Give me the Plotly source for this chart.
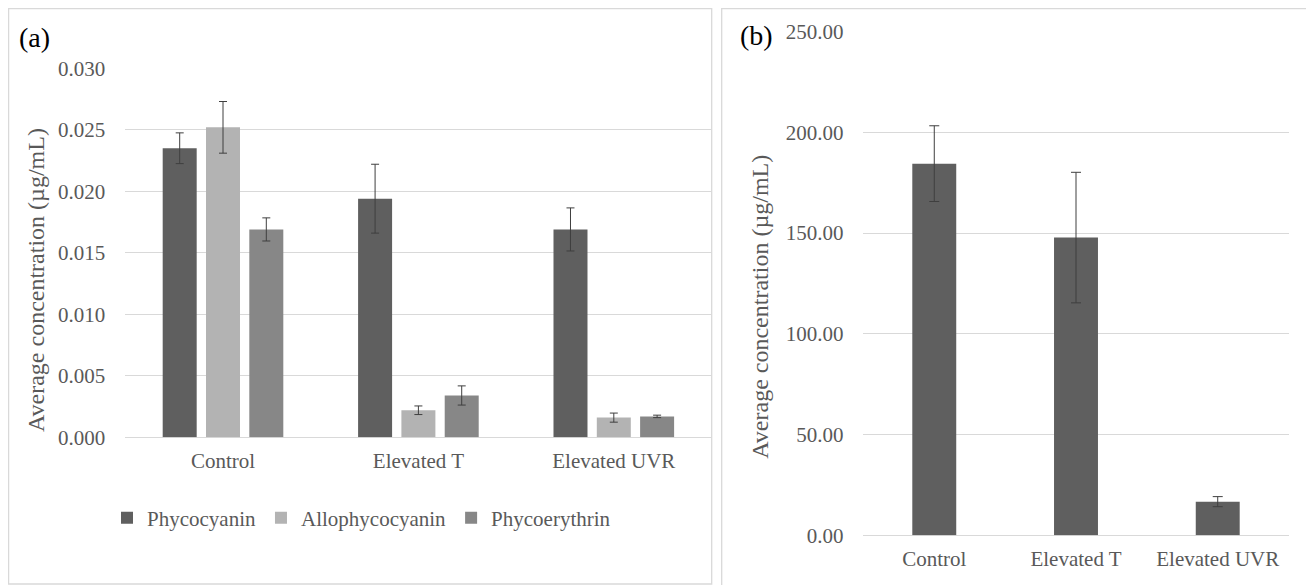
import plotly.graph_objects as go

W, H = 1314, 585
# the page body adds an 8px offset; positions below are given in screen pixels
OX, OY = 8, 8

categories = ["Control", "Elevated T", "Elevated UVR"]

phycocyanin = [0.0235, 0.0194, 0.0169]
phycocyanin_err = [0.00125, 0.0028, 0.00175]
allophycocyanin = [0.0252, 0.0022, 0.0016]
allophycocyanin_err = [0.0021, 0.00035, 0.00037]
phycoerythrin = [0.0169, 0.0034, 0.0017]
phycoerythrin_err = [0.00094, 0.00078, 0.0001]

total = [184.5, 147.8, 16.7]
total_err = [18.8, 32.4, 2.5]

left_ticks = [0.0, 0.005, 0.010, 0.015, 0.020, 0.025, 0.030]
right_ticks = [0, 50, 100, 150, 200, 250]

FONT = "Liberation Serif"
GRAY = "#595959"
GRID = "#d9d9d9"
ERR = "#3f3f3f"


def px(x):
    return (x - OX) / W


def py(y):
    return 1 - (y - OY) / H


fig = go.Figure()

series = [
    ("Phycocyanin", phycocyanin, phycocyanin_err, "#5f5f5f"),
    ("Allophycocyanin", allophycocyanin, allophycocyanin_err, "#b3b3b3"),
    ("Phycoerythrin", phycoerythrin, phycoerythrin_err, "#878787"),
]
for name, vals, errs, col in series:
    fig.add_trace(go.Bar(
        x=categories, y=vals, name=name, marker=dict(color=col, line=dict(width=0)),
        error_y=dict(type="data", array=errs, color=ERR, thickness=1, width=4),
        xaxis="x", yaxis="y",
    ))

fig.add_trace(go.Bar(
    x=categories, y=total, name="Total", showlegend=False,
    marker=dict(color="#5f5f5f", line=dict(width=0)),
    error_y=dict(type="data", array=total_err, color=ERR, thickness=1, width=5),
    xaxis="x2", yaxis="y2", width=0.31,
))

tickfont = dict(family=FONT, size=21, color=GRAY)

fig.update_layout(
    width=W, height=H,
    margin=dict(l=0, r=0, t=0, b=0, autoexpand=False),
    paper_bgcolor="white", plot_bgcolor="white",
    font=dict(family=FONT, size=20, color=GRAY),
    barmode="group", bargap=0.335, bargroupgap=0.215,
    xaxis=dict(domain=[px(125.3), px(711.5)], anchor="y", tickfont=tickfont, automargin=False,
               showgrid=False, showline=False, ticks="", ticklabelstandoff=9),
    yaxis=dict(domain=[py(437.3), py(68.3)], anchor="x", range=[0, 0.030], automargin=False,
               tickvals=left_ticks, tickformat=".3f", tickfont=tickfont,
               showgrid=True, gridcolor=GRID, gridwidth=1,
               zeroline=True, zerolinecolor=GRID, zerolinewidth=1,
               ticks="", ticklabelstandoff=19),
    xaxis2=dict(domain=[px(863.4), px(1288.6)], anchor="y2", tickfont=tickfont, automargin=False,
                showgrid=False, showline=False, ticks="", ticklabelstandoff=9),
    yaxis2=dict(domain=[py(535.3), py(31.7)], anchor="x2", range=[0, 250], automargin=False,
                tickvals=right_ticks, tickformat=".2f", tickfont=tickfont,
                showgrid=True, gridcolor=GRID, gridwidth=1,
                zeroline=True, zerolinecolor=GRID, zerolinewidth=1,
                ticks="", ticklabelstandoff=19),
    legend=dict(orientation="h", x=px(107), y=py(518), xanchor="left", yanchor="middle",
                font=dict(family=FONT, size=21, color=GRAY), itemwidth=30,
                bgcolor="rgba(0,0,0,0)", traceorder="normal"),
    showlegend=True,
    shapes=[
        dict(type="rect", xref="paper", yref="paper", x0=px(8.6), x1=px(711.7), y0=py(584), y1=py(8.6),
             line=dict(color=GRID, width=1.3), layer="below"),
        dict(type="rect", xref="paper", yref="paper", x0=px(721.7), x1=px(1330), y0=py(600), y1=py(8.6),
             line=dict(color=GRID, width=1.3), layer="below"),
    ],
    annotations=[
        dict(text="(a)", x=px(17), y=py(37), xref="paper", yref="paper", xanchor="left", yanchor="middle",
             showarrow=False, font=dict(family=FONT, size=28, color="black")),
        dict(text="(b)", x=px(738), y=py(35), xref="paper", yref="paper", xanchor="left", yanchor="middle",
             showarrow=False, font=dict(family=FONT, size=28, color="black")),
        dict(text="Average concentration (µg/mL)", x=px(36), y=py(280), xref="paper", yref="paper",
             xanchor="center", yanchor="middle", textangle=-90, showarrow=False,
             font=dict(family=FONT, size=24, color=GRAY)),
        dict(text="Average concentration (µg/mL)", x=px(760), y=py(306.7), xref="paper", yref="paper",
             xanchor="center", yanchor="middle", textangle=-90, showarrow=False,
             font=dict(family=FONT, size=24, color=GRAY)),
    ],
)

fig.write_html("out.html")
